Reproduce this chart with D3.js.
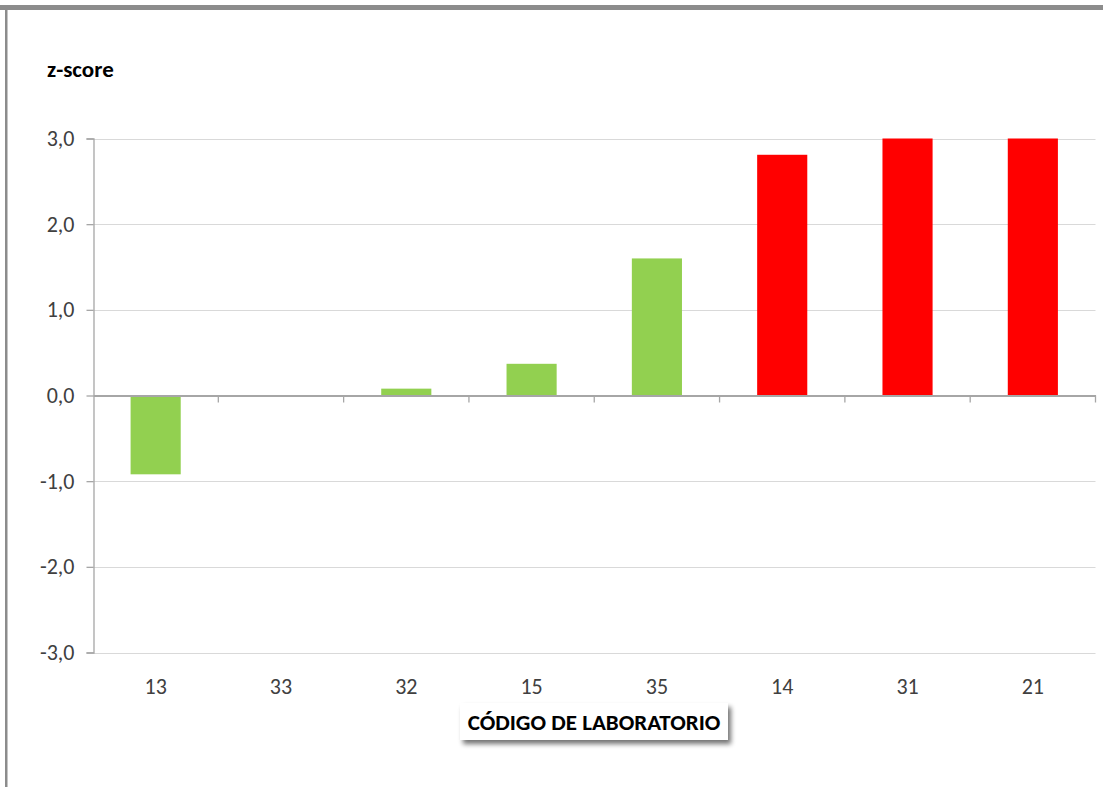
<!DOCTYPE html>
<html><head><meta charset="utf-8">
<script src="https://cdn.jsdelivr.net/npm/d3@7"></script>
<style>body{margin:0;background:#fff;}svg{display:block;}</style>
</head><body>
<svg id="c" width="1103" height="787"></svg>
<script>
const categories = ["13","33","32","15","35","14","31","21"];
const values = [-0.92, 0, 0.08, 0.37, 1.60, 2.81, 3.0, 3.0];
const barColors = ["#92d050","#92d050","#92d050","#92d050","#92d050","#ff0000","#ff0000","#ff0000"];
const yTicks = [-3,-2,-1,0,1,2,3];
const yTitle = "z-score";
const xTitle = "CÓDIGO DE LABORATORIO";

const font = "Carlito, Calibri, Lato, sans-serif";
const svg = d3.select("#c");
const W = 1103, H = 787;
const m = {l:93, r:1095.5, t:138.5, b:652.5};

const defs = svg.append("defs");
const f = defs.append("filter").attr("id","sh").attr("x","-10%").attr("y","-30%").attr("width","130%").attr("height","180%");
f.append("feGaussianBlur").attr("in","SourceAlpha").attr("stdDeviation",2.5).attr("result","b");
f.append("feOffset").attr("in","b").attr("dx",3).attr("dy",4).attr("result","o");
f.append("feComponentTransfer").attr("in","o").attr("result","o2").append("feFuncA").attr("type","linear").attr("slope",0.55);
const mg = f.append("feMerge"); mg.append("feMergeNode").attr("in","o2"); mg.append("feMergeNode").attr("in","SourceGraphic");

// frame borders
svg.append("rect").attr("x",0).attr("y",5).attr("width",W).attr("height",5).attr("fill","#8c8c8c");
svg.append("rect").attr("x",5).attr("y",5).attr("width",2.5).attr("height",H-5).attr("fill","#8c8c8c");

const x = d3.scaleBand().domain(categories).range([m.l, m.r]).paddingInner(0.6).paddingOuter(0.3);
const xb = d3.scaleBand().domain(categories).range([m.l, m.r]);
const y = d3.scaleLinear().domain([-3,3]).range([m.b, m.t]);

// gridlines
svg.append("g").selectAll("line").data(yTicks.filter(d=>d!==0)).join("line")
  .attr("x1",m.l).attr("x2",m.r).attr("y1",d=>Math.round(y(d))+0.5).attr("y2",d=>Math.round(y(d))+0.5)
  .attr("stroke","#d9d9d9").attr("stroke-width",1);

// bars
svg.append("g").selectAll("rect").data(categories).join("rect")
  .attr("x",(d)=>x(d)).attr("width",x.bandwidth())
  .attr("y",(d,i)=>y(Math.max(0,values[i])))
  .attr("height",(d,i)=>Math.abs(y(values[i])-y(0)))
  .attr("fill",(d,i)=>barColors[i]);

// y axis
const ya = svg.append("g").attr("transform",`translate(${m.l+0.5},0)`)
  .call(d3.axisLeft(y).tickValues(yTicks).tickSize(7).tickPadding(12).tickFormat(d=>d3.format(".1f")(d).replace(".",",").replace("−","-")));
ya.select(".domain").attr("stroke","#a6a6a6").attr("stroke-width",1.3);
ya.selectAll(".tick line").attr("stroke","#a6a6a6").attr("stroke-width",1.3);
ya.selectAll("text").attr("font-family",font).attr("font-size",22).attr("fill","#404040");

// x axis at zero
const xa = svg.append("g").attr("transform",`translate(0,${y(0)})`)
  .call(d3.axisBottom(xb).tickSize(0).tickFormat(""));
xa.select(".domain").attr("stroke","#a6a6a6").attr("stroke-width",2);
xa.selectAll(".tick").remove();
const bounds = categories.map(c=>xb(c)).concat([m.r]).slice(1);
xa.selectAll("line.bt").data(bounds).join("line").attr("class","bt")
  .attr("x1",d=>d).attr("x2",d=>d).attr("y1",0).attr("y2",7).attr("stroke","#a6a6a6").attr("stroke-width",1.3);

// category labels
svg.append("g").selectAll("text").data(categories).join("text")
  .attr("x",d=>xb(d)+xb.bandwidth()/2).attr("y",694)
  .attr("text-anchor","middle").attr("font-family",font).attr("font-size",22).attr("fill","#404040").text(d=>d);

// y title
svg.append("text").attr("x",47).attr("y",77).attr("font-family",font).attr("font-size",23).attr("font-weight","bold").attr("fill","#000").text(yTitle);

// x title box
svg.append("rect").attr("x",460).attr("y",703).attr("width",268).attr("height",37).attr("fill","#fff").attr("filter","url(#sh)");
svg.append("text").attr("x",594).attr("y",730).attr("text-anchor","middle").attr("font-family",font).attr("font-size",23).attr("font-weight","bold").attr("fill","#000").text(xTitle);
</script>
</body></html>
